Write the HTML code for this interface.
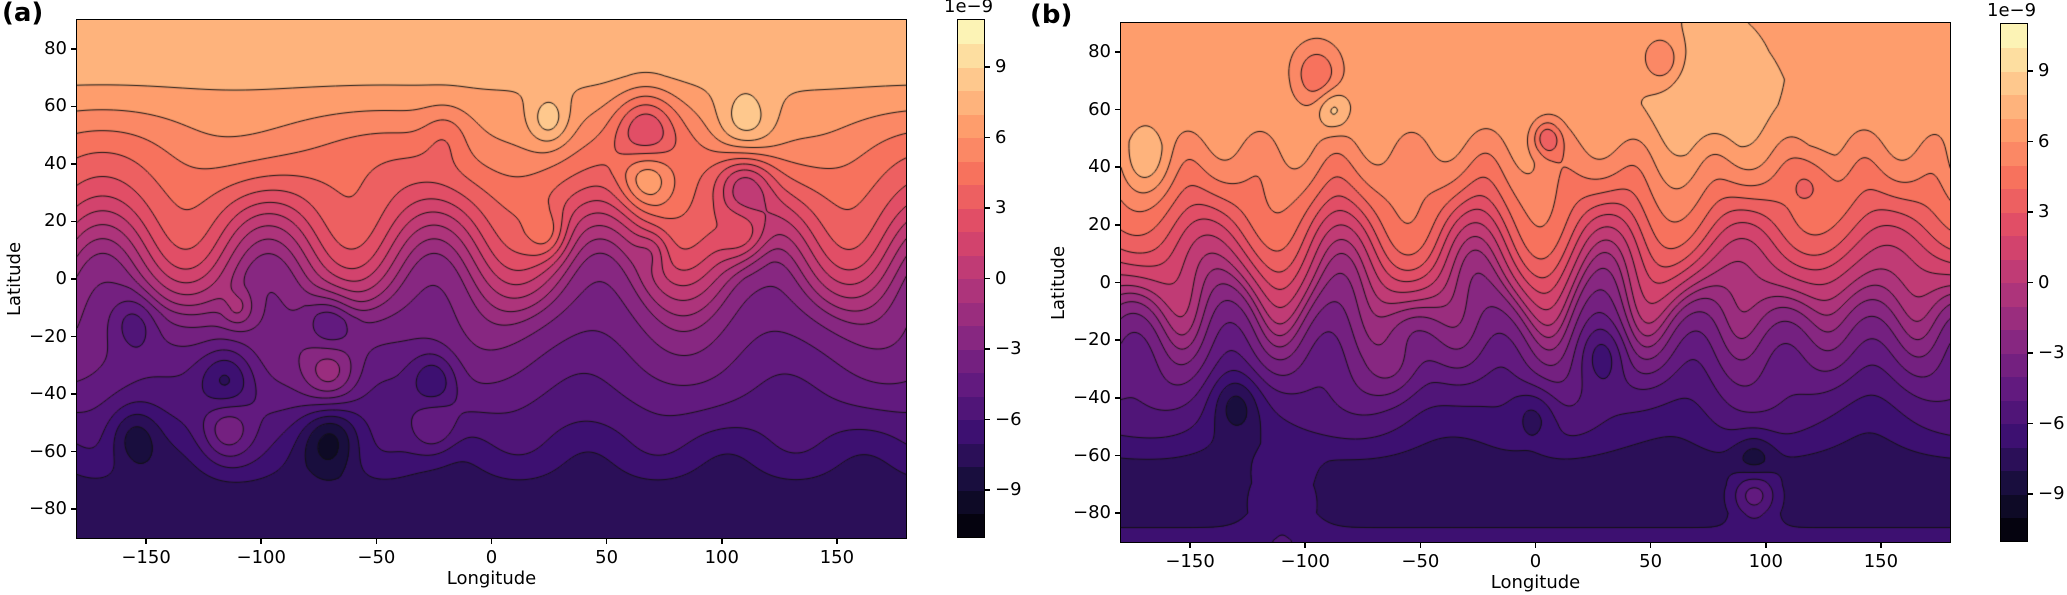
<!DOCTYPE html>
<html><head><meta charset="utf-8">
<style>
body{margin:0;background:#fff;width:2067px;height:595px;overflow:hidden;position:relative;font-family:"DejaVu Sans","Liberation Sans",sans-serif;color:#000}
.abs{position:absolute}
.frame{position:absolute;border:1.5px solid #000;box-sizing:border-box;pointer-events:none}
.tl{position:absolute;font-size:18px;line-height:18px;white-space:nowrap}
.tk{position:absolute;background:#000}
</style></head>
<body>
<div class="abs" style="left:2px;top:-2px;font-size:26px;font-weight:bold">(a)</div>
<div class="abs" style="left:1030px;top:0px;font-size:26px;font-weight:bold">(b)</div>
<div id="root"></div>
<script>
// ---------- data ----------
const levels = [-11,-10,-9,-8,-7,-6,-5,-4,-3,-2,-1,0,1,2,3,4,5,6,7,8,9,10,11];
const cbTicks = [-9,-6,-3,0,3,6,9];
const lonTicks = [-150,-100,-50,0,50,100,150];
const latTicks = [-80,-60,-40,-20,0,20,40,60,80];
const latKnots = [-90,-80,-70,-60,-50,-40,-30,-20,-10,0,10,20,30,40,50,60,70,80,90];
const profileA = [-7.6,-7.6,-7.3,-6.4,-5.6,-4.8,-4.1,-3.4,-2.5,-0.8,0.7,2.2,3.5,4.5,5.5,6.4,7.3,7.6,7.6];
const profileB = [-6.5,-7.5,-7.6,-7.1,-6.1,-5.3,-4.3,-3.3,-1.8,0.3,1.8,3.3,4.5,5.4,6.2,6.5,6.6,6.5,6.5];
// waves: amplitude (deg), zonal wavenumber, phase, center lat, width
const waveAmpA = [16,9,7,6];
const waveKA = [5,4,3,6];
const wavePhA = [0.6,2.0,1.0,0.3];
const waveLatA = [8,-30,45,-60];
const waveWA = [25,18,15,12];
const waveAmpB = [13,9,7,8,6];
const waveKB = [6,9,11,4,7];
const wavePhB = [1.2,0.4,2.5,0.9,1.7];
const waveLatB = [15,-20,45,-45,0];
const waveWB = [22,20,15,15,30];
// blobs: lon, lat, amplitude, radius(deg)
const blobLonA = [67,110,67,110,110,25,-20,-115,-70,-25,-70,-155,-115,-25,-70,-155,-110,25,70];
const blobLatA = [52,53,35,33,15,55,50,-35,-33,-35,-55,-55,-52,-52,-15,-15,-10,15,10];
const blobAmpA = [-3.5,2.5,3.5,-3.5,3,2.2,-1.2,-3,3,-2.5,-3,-2.5,2.5,2,-2.5,-2,2,2,-1.5];
const blobRA = [13,13,12,12,11,9,10,12,12,10,12,11,11,10,10,10,7,9,7];
const blobLonB = [-95,-88,55,75,5,95,95,-110,-130,0,-170,120,-60,30];
const blobLatB = [72,60,77,65,50,-62,-72,-75,-42,-45,42,35,-30,-25];
const blobAmpB = [-2.5,2,-2,1.4,-3,-2.5,3.5,1.5,-2,-2,1.5,-1.5,1.5,-1.5];
const blobRB = [10,7,9,30,6,9,10,15,10,10,12,10,12,10];

// ---------- helpers ----------
const magma=[[0,0,0,4],[0.1,20,14,54],[0.2,59,15,112],[0.3,100,26,128],[0.4,140,41,129],[0.5,183,55,121],[0.6,222,73,104],[0.7,247,112,92],[0.8,254,159,109],[0.9,254,207,146],[1,252,253,191]];
function cmap(t){t=Math.max(0,Math.min(1,t));for(let i=1;i<magma.length;i++){if(t<=magma[i][0]){const a=magma[i-1],b=magma[i],f=(t-a[0])/(b[0]-a[0]);return [a[1]+f*(b[1]-a[1]),a[2]+f*(b[2]-a[2]),a[3]+f*(b[3]-a[3])].map(Math.round);}}return [252,253,191];}
function bandColor(v){const lo=levels[0],hi=levels[levels.length-1];let b=Math.floor(v);b=Math.max(lo,Math.min(hi-1,b));return cmap((b+0.5-lo)/(hi-lo));}
function interp(xs,ys,x){if(x<=xs[0])return ys[0];if(x>=xs[xs.length-1])return ys[ys.length-1];for(let i=1;i<xs.length;i++){if(x<=xs[i]){const f=(x-xs[i-1])/(xs[i]-xs[i-1]);return ys[i-1]+f*(ys[i]-ys[i-1]);}}}
function makeField(prof,wA,wK,wP,wL,wW,bLon,bLat,bAmp,bR){
  return function(lon,lat){
    let d=0;
    for(let i=0;i<wA.length;i++){const e=(lat-wL[i])/wW[i];d+=wA[i]*Math.exp(-e*e)*Math.sin(wK[i]*lon*Math.PI/180+wP[i]);}
    let v=interp(latKnots,prof,lat+d);
    for(let i=0;i<bLon.length;i++){let dx=lon-bLon[i];if(dx>180)dx-=360;if(dx<-180)dx+=360;const dy=lat-bLat[i];v+=bAmp[i]*Math.exp(-(dx*dx+dy*dy)/(bR[i]*bR[i]));}
    return v;
  };
}
const root=document.getElementById('root');
function el(tag,cls,style,text){const e=document.createElement(tag);if(cls)e.className=cls;e.style.cssText=style;if(text!==undefined)e.textContent=text;root.appendChild(e);return e;}
function fmt(n){return n<0?'\u2212'+(-n):String(n);}

function panel(id,ax,cb,field){
  const W=ax.r-ax.l,H=ax.b-ax.t;
  const xS=lon=>ax.l+(lon+180)/360*W;
  const yS=lat=>ax.t+(90-lat)/180*H;
  const cv=document.createElement('canvas');cv.width=Math.round(W);cv.height=Math.round(H);
  cv.style.cssText=`position:absolute;left:${ax.l}px;top:${ax.t}px;`;
  
  
  root.appendChild(cv);
  const ctx=cv.getContext('2d');
  const st=2,nx=Math.ceil(cv.width/st)+1,ny=Math.ceil(cv.height/st)+1;
  const g=new Float32Array(nx*ny);
  for(let j=0;j<ny;j++)for(let i=0;i<nx;i++){const lon=-180+i*st/cv.width*360,lat=90-j*st/cv.height*180;g[j*nx+i]=field(lon,lat);}
  const img=ctx.createImageData(cv.width,cv.height);
  for(let y=0;y<cv.height;y++)for(let x=0;x<cv.width;x++){
    const fi=x/st,fj=y/st,i=Math.floor(fi),j=Math.floor(fj),a=fi-i,b=fj-j;
    const i1=Math.min(i+1,nx-1),j1=Math.min(j+1,ny-1);
    const v=(g[j*nx+i]*(1-a)+g[j*nx+i1]*a)*(1-b)+(g[j1*nx+i]*(1-a)+g[j1*nx+i1]*a)*b;
    const c=bandColor(v),k=(y*cv.width+x)*4;img.data[k]=c[0];img.data[k+1]=c[1];img.data[k+2]=c[2];img.data[k+3]=255;}
  ctx.putImageData(img,0,0);
  ctx.strokeStyle='#111';ctx.lineWidth=1;
  for(const L of levels.slice(1,-1)){
    ctx.setLineDash(L<0?[3,2]:[]);ctx.beginPath();
    for(let j=0;j<ny-1;j++)for(let i=0;i<nx-1;i++){
      const v0=g[j*nx+i],v1=g[j*nx+i+1],v2=g[(j+1)*nx+i+1],v3=g[(j+1)*nx+i];
      const pts=[];const x0=i*st,y0=j*st;
      if((v0>L)!==(v1>L))pts.push([x0+st*(L-v0)/(v1-v0),y0]);
      if((v1>L)!==(v2>L))pts.push([x0+st,y0+st*(L-v1)/(v2-v1)]);
      if((v2>L)!==(v3>L))pts.push([x0+st*(1-(L-v2)/(v3-v2)),y0+st]);
      if((v3>L)!==(v0>L))pts.push([x0,y0+st*(1-(L-v3)/(v0-v3))]);
      for(let p=0;p+1<pts.length;p+=2){ctx.moveTo(pts[p][0],pts[p][1]);ctx.lineTo(pts[p+1][0],pts[p+1][1]);}
    }
    ctx.stroke();
  }
  const fr=el('div','frame',`left:${ax.l-1}px;top:${ax.t-1}px;width:${W+2}px;height:${H+2}px`);
  
  
  for(const t of lonTicks){const x=xS(t);
    el('div','tk',`left:${x-0.75}px;top:${ax.b}px;width:1.5px;height:6px`);
    const lb=el('div','tl',`left:${x-40}px;top:${ax.b+11}px;width:80px;text-align:center`,fmt(t));
    
    }
  for(const t of latTicks){const y=yS(t);
    el('div','tk',`left:${ax.l-6}px;top:${y-0.75}px;width:6px;height:1.5px`);
    const lb=el('div','tl',`left:${ax.l-70}px;top:${y-9}px;width:60px;text-align:right`,fmt(t));
    
    }
  const xt=el('div','tl',`left:${(ax.l+ax.r)/2-60}px;top:${ax.b+32}px;width:120px;text-align:center`,'Longitude');
  
  
  const yt=el('div','tl',`left:${ax.l-122}px;top:${(ax.t+ax.b)/2-9}px;width:120px;text-align:center;transform:rotate(-90deg)`,'Latitude');
  
  
  const cbH=cb.b-cb.t,nb=levels.length-1;
  const yC=v=>cb.b-(v-levels[0])/(levels[nb]-levels[0])*cbH;
  for(let k=0;k<nb;k++){const c=cmap((k+0.5)/nb);
    const s=el('div','abs',`left:${cb.l}px;top:${yC(levels[k+1])}px;width:${cb.r-cb.l}px;height:${cbH/nb+0.6}px;background:rgb(${c})`);
    
    }
  const cf=el('div','frame',`left:${cb.l-1}px;top:${cb.t-1}px;width:${cb.r-cb.l+2}px;height:${cbH+2}px`);
  
  
  for(const t of cbTicks){const y=yC(t);
    el('div','tk',`left:${cb.r}px;top:${y-0.75}px;width:6px;height:1.5px`);
    const lb=el('div','tl',`left:${cb.r+11}px;top:${y-9}px`,fmt(t));
    
    }
  const ex=el('div','tl',`left:${cb.l-14}px;top:${cb.t-22}px`,'1e\u22129');
  
  
}
panel('panel-a',{l:77,r:906,t:20,b:538},{l:958,r:984,t:20,b:537},
  makeField(profileA,waveAmpA,waveKA,wavePhA,waveLatA,waveWA,blobLonA,blobLatA,blobAmpA,blobRA));
panel('panel-b',{l:1121,r:1950,t:23,b:542},{l:2001,r:2027,t:24,b:541},
  makeField(profileB,waveAmpB,waveKB,wavePhB,waveLatB,waveWB,blobLonB,blobLatB,blobAmpB,blobRB));
</script>
</body></html>
